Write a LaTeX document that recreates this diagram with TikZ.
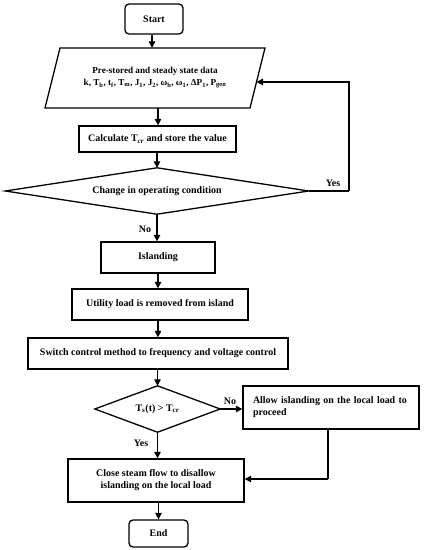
\documentclass[tikz,border=0pt]{standalone}
\usepackage{fontspec}
\setmainfont{Liberation Serif}
\usetikzlibrary{arrows.meta}
\tikzset{
  box/.style={draw, line width=1.3bp, rectangle, inner sep=2bp, align=center, font=\bfseries\fontsize{10}{12}\selectfont},
  term/.style={box, rounded corners=4bp},
  dec/.style={rectangle, inner sep=0pt, align=center, font=\bfseries\fontsize{10}{12}\selectfont},
  conn/.style={line width=1.3bp, -{Triangle[length=6.5bp,width=6.5bp]}},
  line/.style={line width=1.3bp},
  lbl/.style={font=\bfseries\fontsize{10}{12}\selectfont, inner sep=0pt}
}
\begin{document}
\begin{tikzpicture}[x=1bp,y=-1bp]
\useasboundingbox[fill=white] (0,0) rectangle (424,550);
% nodes
\node[term, minimum width=58bp, minimum height=30bp] (start) at (154,19) {Start};
\node[inner sep=0pt, minimum width=220bp, minimum height=60bp, align=center,
      font=\bfseries\fontsize{9.2}{12}\selectfont] (para) at (155,78)
  {Pre-stored and steady state data\\
   k, T\textsubscript{b}, t\textsubscript{f}, T\textsubscript{m}, J\textsubscript{1}, J\textsubscript{2}, ω\textsubscript{b}, ω\textsubscript{1}, ΔP\textsubscript{1}, P\textsubscript{gen}};
\draw[line] (60,48) coordinate (pa) -- (265,48) coordinate (pb) -- (250,108) coordinate (pc) -- (45,108) coordinate (pd) -- cycle;
\node[box, minimum width=157bp, minimum height=26bp] (calc) at (157.5,139) {Calculate T\textsubscript{\textit{cr}} and store the value};
\node[dec, minimum width=303bp, minimum height=46bp] (d1) at (157,191) {Change in operating condition};
\draw[line] (d1.north) -- (d1.east) -- (d1.south) -- (d1.west) -- cycle;
\node[box, minimum width=114bp, minimum height=31bp] (isl) at (158,257.5) {Islanding};
\node[box, minimum width=176bp, minimum height=31bp] (util) at (160,304.5) {Utility load is removed from island};
\node[box, minimum width=260bp, minimum height=31bp] (sw) at (158,353.5) {Switch control method to frequency and voltage control};
\node[dec, minimum width=125bp, minimum height=46bp] (d2) at (157.5,409) {T\textsubscript{s}(t) \textgreater{} T\textsubscript{cr}};
\draw[line] (d2.north) -- (d2.east) -- (d2.south) -- (d2.west) -- cycle;
\node[box, minimum width=176bp, minimum height=43bp, align=left, text width=156bp, inner xsep=10bp] (allow) at (331,407.5) {Allow islanding on the local load to\\ proceed};
\node[box, minimum width=176bp, minimum height=43bp] (close) at (156,480.5) {Close steam flow to disallow\\ islanding on the local load};
\node[term, minimum width=59bp, minimum height=27bp] (end) at (158.5,533.5) {End};
% connectors
\coordinate (pin) at (152,48);
\coordinate (pout) at (158,108);
\coordinate (fb) at (256.5,82);
\coordinate (yesc) at (349,191);
\coordinate (alb) at (328,429);
\coordinate (alc) at (328,479);
\coordinate (uo) at (158,320);
\draw[conn] (start.south -| pin) -- (pin);
\draw[conn] (pout) -- (pout |- calc.north);
\draw[conn] (calc.south -| d1.north) -- (d1.north);
\draw[line] (d1.east) -- (yesc);
\draw[conn] (yesc) -- (yesc |- fb) -- (fb);
\node[lbl] (yes1) at (333,183) {Yes};
\draw[conn] (d1.south) -- (d1.south |- isl.north);
\node[lbl] (no1) at (145,229) {No};
\draw[conn] (isl.south) -- (isl.south |- util.north);
\draw[conn] (uo) -- (uo |- sw.north);
\draw[conn] (sw.south -| d2.north) -- (d2.north);
\draw[conn] (d2.east) -- (d2.east -| allow.west);
\node[lbl] (no2) at (230,401) {No};
\draw[conn] (d2.south) -- (d2.south |- close.north);
\node[lbl] (yes2) at (141,443) {Yes};
\draw[line] (alb) -- (alc);
\draw[conn] (alc) -- (alc -| close.east);
\draw[conn] (close.south -| end.north) -- (end.north);
\end{tikzpicture}
\end{document}
